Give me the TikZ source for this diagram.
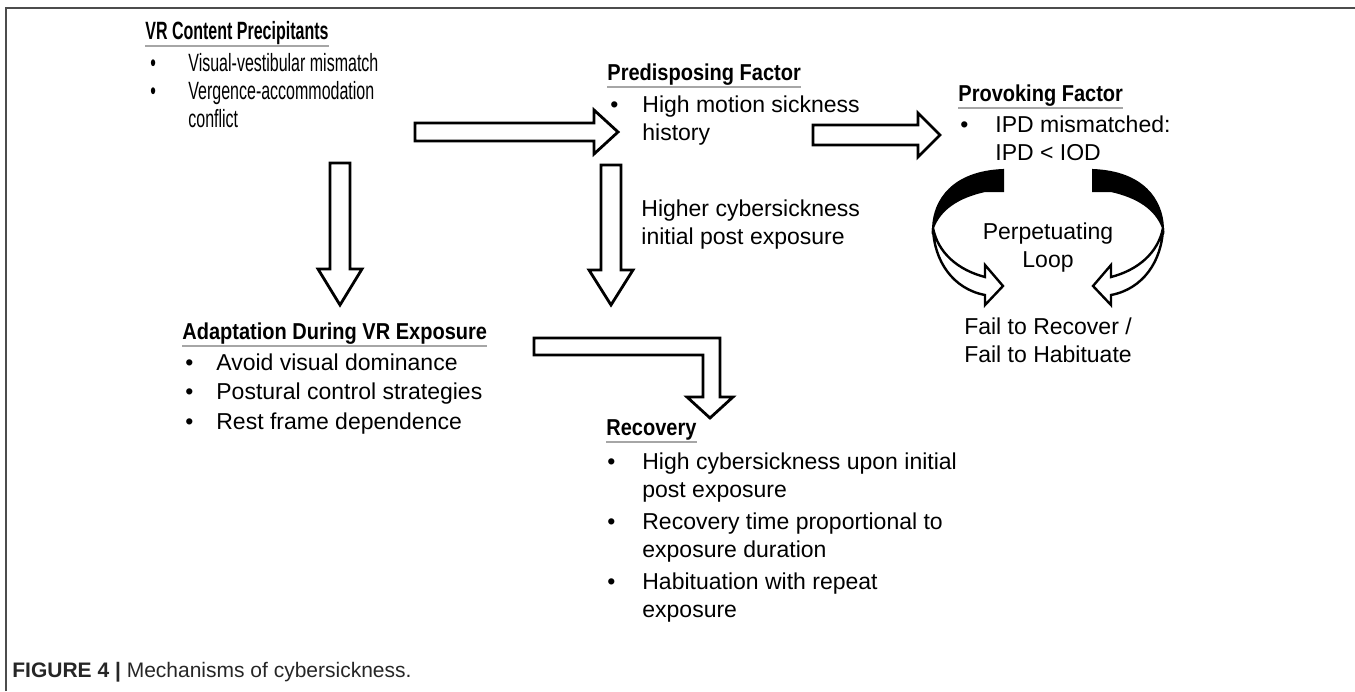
\documentclass[tikz,border=0pt]{standalone}
\usepackage{fontspec}
\setmainfont{Liberation Sans}
\newfontfamily\narrowfont[FakeStretch=0.64]{Liberation Sans}
\newfontfamily\headfont[FakeStretch=0.87]{Liberation Sans}
\usetikzlibrary{positioning}

\newcommand{\bodysize}{\fontsize{11.5}{14}\selectfont}
\newcommand{\fatarrow}[6]{%
  \draw[blockarrow, shift={(#1)}, rotate=#2] (0,-#4) -- (#3-#6,-#4) -- (#3-#6,-#5) -- (#3,0) -- (#3-#6,#5) -- (#3-#6,#4) -- (0,#4) -- cycle;}

\tikzset{
  loopside/.pic={
    \filldraw[line width=1pt] (-45,170) -- (-45,191) -- (-63,191) .. controls (-90,197) and (-108,209) .. (-115,228) .. controls (-114,200) and (-95,172) .. (-45,170) -- cycle;
    \draw[blockarrow, line width=1.2pt] (-115,228) .. controls (-114,261) and (-95,289) .. (-63,295) -- (-63,305) -- (-45,286) -- (-63,265) -- (-63,277) .. controls (-90,270) and (-110,253) .. (-115,228) -- cycle;
  }
}

\begin{document}
\begin{tikzpicture}[x=0.5pt, y=-0.5pt,
    blockarrow/.style={draw, fill=white, line width=1.4pt, line join=miter},
    headline/.style={anchor=base west, inner sep=0pt, font=\headfont\bodysize\bfseries},
    itemlist/.style={anchor=base west, inner sep=0pt, font=\bodysize, align=left},
    underline/.style={draw=gray!70, line width=1pt},
    framing/.style={draw=black!70, line width=1pt}]
  \useasboundingbox (0,0) rectangle (1355,691);
  \draw[framing] (6,691) -- (6,8) -- (1355,8);

  \node[headline, font=\narrowfont\fontsize{12.5}{14}\selectfont\bfseries] (prec) at (145,39) {VR Content Precipitants};
  \node[itemlist, font=\narrowfont\fontsize{12.5}{14}\selectfont] (precitems) at (150,71) {\begin{tabular}[t]{@{}p{19pt}@{}l@{}}
    \textbullet & Visual-vestibular mismatch\\
    \textbullet & Vergence-accommodation\\
    & conflict
  \end{tabular}};

  \node[headline] (pred) at (607,80) {Predisposing Factor};
  \node[itemlist] (preditems) at (610,112) {\begin{tabular}[t]{@{}p{16pt}@{}l@{}}
    \textbullet & High motion sickness\\
    & history
  \end{tabular}};

  \node[headline] (prov) at (958,101) {Provoking Factor};
  \node[itemlist] (provitems) at (960,132) {\begin{tabular}[t]{@{}p{17.5pt}@{}l@{}}
    \textbullet & IPD mismatched:\\
    & IPD < IOD
  \end{tabular}};

  \node[itemlist] (higher) at (641,244) {Higher cybersickness\\initial post exposure};

  \node[headline] (adap) at (182,339) {Adaptation During VR Exposure};
  \node[itemlist, font=\fontsize{11.5}{14.75}\selectfont] (adapitems) at (185,370) {\begin{tabular}[t]{@{}p{15.5pt}@{}l@{}}
    \textbullet & Avoid visual dominance\\
    \textbullet & Postural control strategies\\
    \textbullet & Rest frame dependence
  \end{tabular}};

  \node[headline] (reco) at (606,435) {Recovery};
  \node[itemlist] (recoitems) at (607,469) {\begin{tabular}[t]{@{}p{17.5pt}@{}l@{}}
    \textbullet & High cybersickness upon initial\\
    & post exposure\\[2pt]
    \textbullet & Recovery time proportional to\\
    & exposure duration\\[2pt]
    \textbullet & Habituation with repeat\\
    & exposure
  \end{tabular}};

  \foreach \h in {prec, pred, prov, adap, reco}
    \draw[underline] ([yshift=-3.5pt]\h.base west) -- ([yshift=-3.5pt]\h.base east);

  \node[itemlist, anchor=base, align=center] (perp) at (1048,267) {Perpetuating\\Loop};
  \node[itemlist, anchor=base, align=center] (fail) at (1048,362) {Fail to Recover /\\Fail to Habituate};

  \coordinate (a1) at (415,132);
  \coordinate (a2) at (813,135);
  \coordinate (a3) at (340,163);
  \coordinate (a4) at (611,165);
  \fatarrow{a1}{0}{203}{9}{22}{24}
  \fatarrow{a2}{0}{127}{10}{22}{22}
  \fatarrow{a3}{-90}{142}{10}{22}{36}
  \fatarrow{a4}{-90}{140}{10}{22}{35}
  \draw[blockarrow] (534,338) -- (720,338) -- (720,397) -- (733,397) -- (710,418) -- (687,397) -- (703,397) -- (703,355) -- (534,355) -- cycle;

  \pic at (1048,0) {loopside};
  \pic[xscale=-1] at (1048,0) {loopside};

  \node[anchor=base west, inner sep=0pt, font=\fontsize{10.5}{12}\selectfont, text=black!85] (cap) at (12,677) {\textbf{FIGURE 4 |} Mechanisms of cybersickness.};
\end{tikzpicture}
\end{document}
